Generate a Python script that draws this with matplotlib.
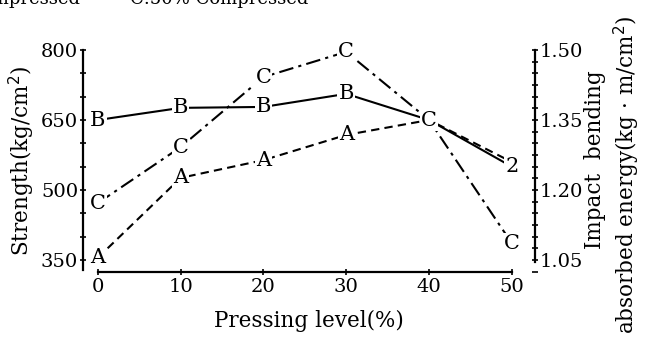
import matplotlib.pyplot as plt
from matplotlib.ticker import MultipleLocator

plt.rcParams['font.family'] = ['DejaVu Serif', 'Liberation Serif']

pressing = [0, 10, 20, 30, 40, 50]
strength_a = [355, 526, 564, 618, 650, 560]
strength_b = [650, 676, 678, 706, 650, 550]
strength_c = [472, 592, 742, 796, 650, 386]
labels_a = ['A', 'A', 'A', 'A', '', '']
labels_b = ['B', 'B', 'B', 'B', '', '2']
labels_c = ['C', 'C', 'C', 'C', 'C', 'C']

fig = plt.figure(figsize=(6.56, 3.41), dpi=100)
ax = fig.add_axes([0.1265, 0.2023, 0.689, 0.6511])

ax.plot(pressing, strength_a, color='black', lw=1.5, ls=(0, (4, 2.5)))
ax.plot(pressing, strength_b, color='black', lw=1.5, ls='-')
ax.plot(pressing, strength_c, color='black', lw=1.5, ls=(0, (7, 2.5, 1.5, 2.5)))

for xs, ys, labs in [(pressing, strength_a, labels_a),
                     (pressing, strength_b, labels_b),
                     (pressing, strength_c, labels_c)]:
    for x, y, s in zip(xs, ys, labs):
        if s:
            ax.text(x, y, s, ha='center', va='center', fontsize=15, zorder=5,
                    bbox=dict(boxstyle='square,pad=0.05', fc='white', ec='none'))

ax.set_xlim(-1.8, 52.8)
ax.set_ylim(324.3, 800)
ax.spines['top'].set_visible(False)
ax.spines['bottom'].set_bounds(0, 50)
ax.spines['left'].set_bounds(328, 800)
ax.spines['right'].set_visible(False)
for s in ['bottom', 'left']:
    ax.spines[s].set_linewidth(1.6)

ax.set_xticks(pressing)
ax.set_yticks([350, 500, 650, 800])
ax.yaxis.set_minor_locator(MultipleLocator(50))
ax.tick_params(axis='both', which='both', direction='inout', width=1.2, labelsize=14)
ax.tick_params(axis='x', length=4, pad=2)
ax.tick_params(axis='y', which='major', length=5, pad=1)
ax.tick_params(axis='y', which='minor', length=4)
ax.set_xlabel('Pressing level(%)', fontsize=15.5)
ax.xaxis.set_label_coords(0.5, -0.171)
ax.set_ylabel('Strength(kg/cm$^2$)', fontsize=15.5)
ax.yaxis.set_label_coords(-0.102, 0.5)

ax2 = ax.twinx()
ax2.set_ylim(1.05 + (324.3 - 350) / 1000, 1.50)
for s in ['top', 'left', 'bottom']:
    ax2.spines[s].set_visible(False)
ax2.spines['right'].set_bounds(1.045, 1.50)
ax2.spines['right'].set_linewidth(1.6)
ax2.set_yticks([1.05, 1.20, 1.35, 1.50])
ax2.set_yticklabels(['1.05', '1.20', '1.35', '1.50'])
ax2.yaxis.set_minor_locator(MultipleLocator(0.025))
ax2.tick_params(axis='y', which='both', direction='inout', width=1.2, labelsize=14, pad=1)
ax2.tick_params(axis='y', which='major', length=5)
ax2.tick_params(axis='y', which='minor', length=4)

fig.text(595 / 656, 1 - 160 / 341, 'Impact  bending', rotation=90,
         ha='center', va='center', fontsize=15.5)
fig.text(627 / 656, 1 - 175 / 341, 'absorbed energy(kg · m/cm$^2$)', rotation=90,
         ha='center', va='center', fontsize=15.5)

# caption line above the chart, cut by the top edge as in the source scan
fig.text(80 / 656, 1 - 4 / 341, 'B:30% Compressed', ha='right', va='baseline', fontsize=13)
fig.text(130 / 656, 1 - 4 / 341, 'C:50% Compressed', ha='left', va='baseline', fontsize=13)

fig.savefig('out.png', dpi=100)
